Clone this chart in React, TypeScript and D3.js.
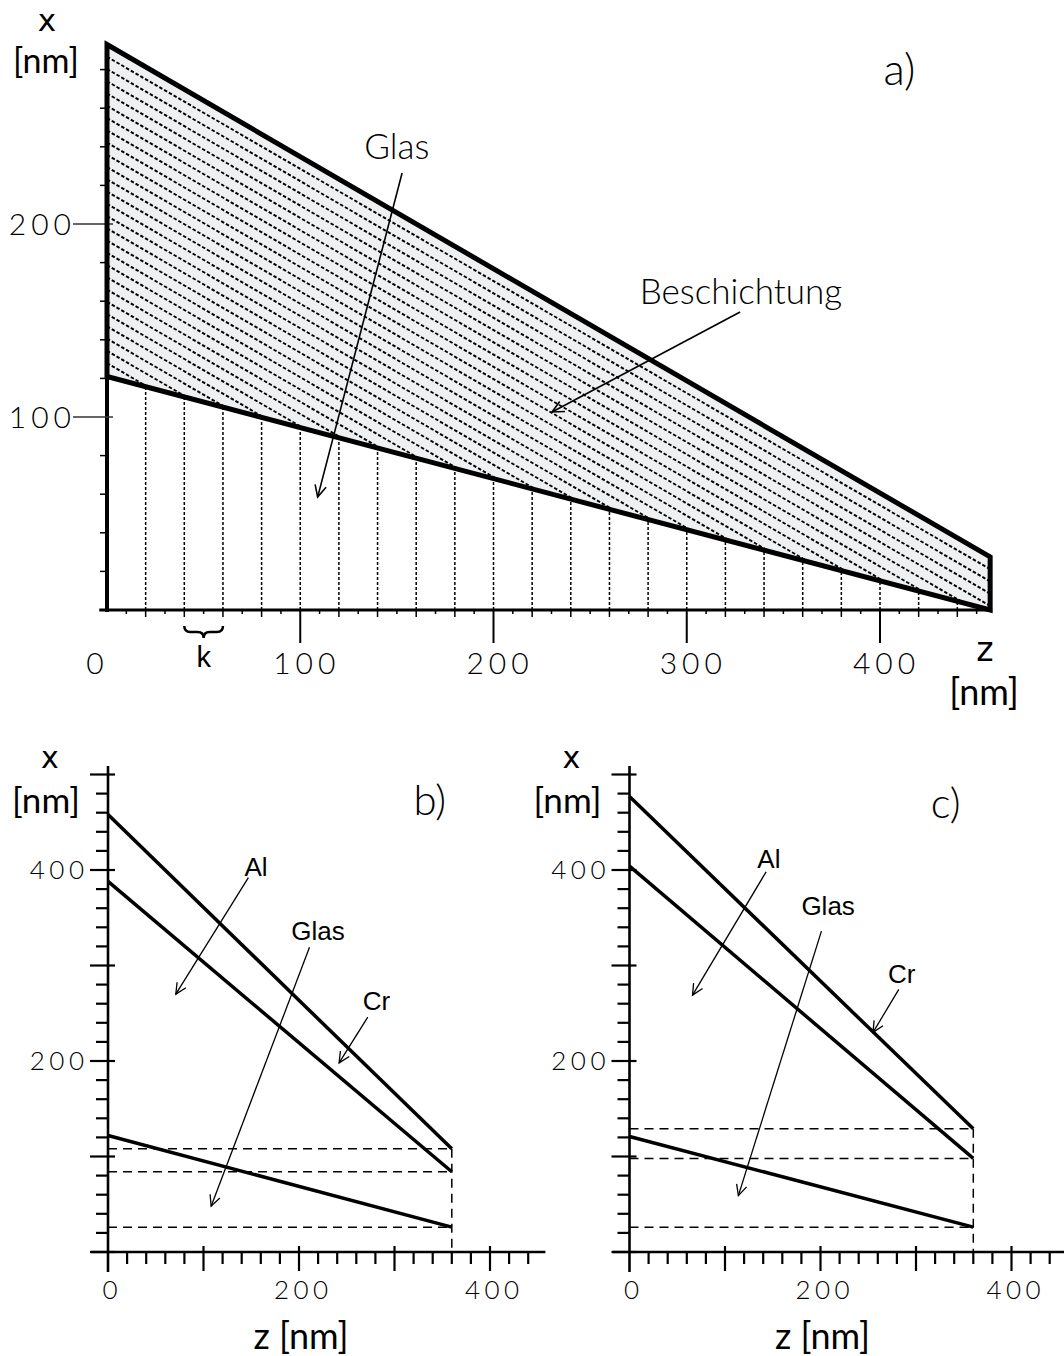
import React from "react";
import * as d3 from "d3";

// ---------- panel a) : wedge, values in nm ----------
const zA = [0, 457]; // z at wedge start / end
const coatingTopA = [293, 27.5]; // outer surface of the coating
const glassTopA = [121, 0]; // glass / coating interface
const slicesA = d3.range(20, 441, 20); // k = 20 nm slices in the glass
const xTicksA = [0, 100, 200, 300, 400];
const yTicksA = [100, 200];
const notesA = [
  { text: "Glas", tz: 150, tx: 240, from: [152.7, 226.4], to: [109, 58.5] },
  { text: "Beschichtung", tz: 328, tx: 165, from: [327.6, 154.4], to: [230.3, 102.6] },
];

// ---------- panels b) and c) ----------
const zBC = [0, 360];
const crB = [458, 108];
const alB = [388, 84];
const glassB = [122, 26];
const crC = [477, 129];
const alC = [404, 98];
const glassC = [121, 26];
const xTicksBC = [0, 200, 400];
const yTicksBC = [200, 400];
const notesB = [
  { text: "Al", tz: 155, tx: 404, from: [147, 392], to: [71, 270] },
  { text: "Glas", tz: 220, tx: 337, from: [211, 319], to: [108, 48] },
  { text: "Cr", tz: 281, tx: 263, from: [272, 246], to: [242, 198] },
];
const notesC = [
  { text: "Al", tz: 146, tx: 412, from: [143, 398], to: [66, 269] },
  { text: "Glas", tz: 208, tx: 363, from: [201, 336], to: [114, 59] },
  { text: "Cr", tz: 285, tx: 292, from: [282, 275], to: [255, 230] },
];

const gothic = "Lato, 'Open Sans', 'DejaVu Sans', sans-serif";
const arial = "'Liberation Sans', Arial, sans-serif";
const dejavu = "'DejaVu Sans', sans-serif";

// open V arrow head like the original drawing
const Arrow = ({ x1, y1, x2, y2, w = 1.6, head = 13 }) => {
  const a = Math.atan2(y2 - y1, x2 - x1);
  const s = 0.45;
  const p1 = [x2 - head * Math.cos(a - s), y2 - head * Math.sin(a - s)];
  const p2 = [x2 - head * Math.cos(a + s), y2 - head * Math.sin(a + s)];
  return (
    <g stroke="#000" strokeWidth={w} fill="none">
      <line x1={x1} y1={y1} x2={x2} y2={y2} />
      <path d={`M${p1[0]},${p1[1]}L${x2},${y2}L${p2[0]},${p2[1]}`} />
    </g>
  );
};

// thin, widely spaced tick numbers
const Num = ({ x, y, v, size, sp, anchor = "middle" }) => (
  <text
    x={anchor === "middle" ? x + sp / 2 : anchor === "end" ? x + sp : x}
    y={y}
    dy="0.36em"
    textAnchor={anchor}
    fontFamily={gothic}
    fontWeight={300}
    fontSize={size}
    letterSpacing={sp}
    fill="#000"
  >
    {v}
  </text>
);

const PanelA = () => {
  const x = d3.scaleLinear().domain([0, 400]).range([107, 880]);
  const y = d3.scaleLinear().domain([0, 200]).range([610, 224]);
  const glassAt = d3.scaleLinear().domain(zA).range(glassTopA);
  const poly: [number, number][] = [
    [zA[0], coatingTopA[0]],
    [zA[1], coatingTopA[1]],
    [zA[1], glassTopA[1]],
    [zA[0], glassTopA[0]],
  ];
  const line = d3.line<[number, number]>().x((d) => x(d[0])).y((d) => y(d[1]));
  const outline = line(poly) + "Z";
  // hatching parallel to the coating surface
  const hatch = d3.range(1, 48).map((k) => k * 6.35);

  return (
    <g>
      <defs>
        <clipPath id="coat">
          <path d={outline} />
        </clipPath>
      </defs>
      <path d={outline} fill="#eff0f2" />
      <g clipPath="url(#coat)" stroke="#000" strokeWidth={1.9} strokeDasharray="3.5 2">
        {hatch.map((d) => (
          <line
            key={d}
            x1={x(zA[0])}
            y1={y(coatingTopA[0] - d)}
            x2={x(zA[1])}
            y2={y(coatingTopA[1] - d)}
          />
        ))}
      </g>
      <g stroke="#000" strokeWidth={1.5} strokeDasharray="3 2">
        {slicesA.map((z) => (
          <line key={z} x1={x(z)} x2={x(z)} y1={y(0)} y2={y(glassAt(z))} />
        ))}
      </g>

      {/* axes */}
      <line x1={x(0)} x2={x(0)} y1={y(0) + 2} y2={y(glassTopA[0])} stroke="#000" strokeWidth={4} />
      <line x1={x(-4)} x2={x(zA[1]) + 2} y1={y(0)} y2={y(0)} stroke="#000" strokeWidth={3} />
      <g stroke="#000" strokeWidth={1.5}>
        {d3.range(10, 451, 10).map((z) => (
          <line
            key={z}
            x1={x(z)}
            x2={x(z)}
            y1={y(0)}
            y2={y(0) + (z % 100 === 0 ? 33 : z % 20 === 0 ? 7 : 4)}
            strokeWidth={z % 100 === 0 ? 2 : 1.5}
          />
        ))}
        {d3.range(0, 281, 20)
          .filter((v) => !yTicksA.includes(v))
          .map((v) => (
            <line key={v} x1={x(0) - 7} x2={x(0)} y1={y(v)} y2={y(v)} />
          ))}
      </g>
      {yTicksA.map((v) => (
        <g key={v}>
          <line x1={73} x2={113} y1={y(v)} y2={y(v)} stroke="#333" strokeWidth={1.5} />
          <Num x={71} y={y(v)} v={v} size={30} sp={5} anchor="end" />
        </g>
      ))}
      {xTicksA.map((v) => (
        <Num key={v} x={v === 0 ? x(v) - 12 : x(v) + 4} y={663} v={v} size={30} sp={5} />
      ))}

      {/* k brace */}
      <path
        d={`M${x(40)},626 Q${x(40)},632 ${x(40) + 6},632 L${x(50) - 6},632 Q${x(50)},632 ${x(50)},638 Q${x(50)},632 ${x(50) + 6},632 L${x(60) - 6},632 Q${x(60)},632 ${x(60)},626`}
        fill="none"
        stroke="#000"
        strokeWidth={2.5}
      />
      <text x={x(50)} y={657} dy="0.36em" textAnchor="middle" fontFamily={arial} fontSize={29}>
        k
      </text>

      {/* annotations */}
      {notesA.map((n) => (
        <g key={n.text}>
          <text x={x(n.tz)} y={y(n.tx)} dy="0.36em" textAnchor="middle" fontFamily={gothic} fontWeight={300} fontSize={35}>
            {n.text}
          </text>
          <Arrow x1={x(n.from[0])} y1={y(n.from[1])} x2={x(n.to[0])} y2={y(n.to[1])} />
        </g>
      ))}

      <path d={outline} fill="none" stroke="#000" strokeWidth={5} strokeLinejoin="miter" />

      <text x={47} y={31} textAnchor="middle" fontFamily={dejavu} fontSize={31}>x</text>
      <text x={46} y={73} textAnchor="middle" fontFamily={gothic} fontSize={34}>[nm]</text>
      <text x={985} y={661} textAnchor="middle" fontFamily={dejavu} fontSize={33}>z</text>
      <text x={984} y={692} dy="0.36em" textAnchor="middle" fontFamily={gothic} fontSize={36}>[nm]</text>
      <text x={x(410)} y={y(280)} dy="0.36em" textAnchor="middle" fontFamily={gothic} fontWeight={300} fontSize={44}>a)</text>
    </g>
  );
};

const SidePanel = ({ x0, cr, al, glass, notes, tag, tagPos }) => {
  const x = d3.scaleLinear().domain([0, 400]).range([x0, x0 + 382]);
  const y = d3.scaleLinear().domain([0, 400]).range([1252, 870]);
  const line = d3.line<[number, number]>().x((d) => x(d[0])).y((d) => y(d[1]));
  const layers = [cr, al, glass];
  const zEnd = zBC[1];

  return (
    <g>
      {/* dashed reference lines */}
      <g stroke="#000" strokeWidth={1.5} strokeDasharray="9 6" fill="none">
        {[cr[1], al[1], glass[1]].map((v, i) => (
          <line key={i} x1={x(0)} x2={x(zEnd)} y1={y(v)} y2={y(v)} />
        ))}
        <line x1={x(zEnd)} x2={x(zEnd)} y1={y(cr[1])} y2={y(0)} />
      </g>
      {layers.map((l, i) => (
        <path
          key={i}
          d={line([
            [zBC[0], l[0]],
            [zBC[1], l[1]],
          ])!}
          fill="none"
          stroke="#000"
          strokeWidth={3.5}
        />
      ))}

      {/* axes */}
      <g stroke="#000" strokeWidth={2.2}>
        <line x1={x(0)} x2={x(0)} y1={y(-21)} y2={y(509)} strokeWidth={2.6} />
        <line x1={x(-18)} x2={x(458)} y1={y(0)} y2={y(0)} strokeWidth={2.6} />
        {d3.range(0, 501, 20).map((v) => (
          <line
            key={"y" + v}
            x1={x(0) - (v % 100 === 0 ? 18 : 12)}
            x2={x(0) + (v % 100 === 0 ? 7 : 0)}
            y1={y(v)}
            y2={y(v)}
          />
        ))}
        {d3.range(20, 441, 20).map((v) => (
          <line
            key={"x" + v}
            x1={x(v)}
            x2={x(v)}
            y1={y(0) - (v % 100 === 0 ? 6 : 0)}
            y2={y(0) + (v % 100 === 0 ? 19 : 12)}
          />
        ))}
      </g>
      {yTicksBC.map((v) => (
        <Num key={v} x={x0 - 24} y={y(v)} v={v} size={26} sp={4.5} anchor="end" />
      ))}
      {xTicksBC.map((v) => (
        <Num key={v} x={x(v) + 2} y={1290} v={v} size={26} sp={4.5} />
      ))}

      {notes.map((n) => (
        <g key={n.text}>
          <text x={x(n.tz)} y={y(n.tx)} dy="0.36em" textAnchor="middle" fontFamily={arial} fontSize={26}>
            {n.text}
          </text>
          <Arrow x1={x(n.from[0])} y1={y(n.from[1])} x2={x(n.to[0])} y2={y(n.to[1])} w={1.3} head={12} />
        </g>
      ))}

      <text x={x0 - 58} y={768} textAnchor="middle" fontFamily={dejavu} fontSize={30}>x</text>
      <text x={x0 - 62} y={800} dy="0.36em" textAnchor="middle" fontFamily={gothic} fontSize={35}>[nm]</text>
      <text x={x0 + 193} y={1336} dy="0.36em" textAnchor="middle" fontFamily={gothic} fontSize={36}>z [nm]</text>
      <text x={x(tagPos[0])} y={y(tagPos[1])} dy="0.36em" textAnchor="middle" fontFamily={gothic} fontWeight={300} fontSize={42}>
        {tag}
      </text>
    </g>
  );
};

export default function App() {
  return (
    <svg width={1064} height={1356} style={{ position: "absolute", left: 0, top: 0, background: "#fff" }}>
      <rect width={1064} height={1356} fill="#fff" />
      <PanelA />
      <SidePanel x0={108} cr={crB} al={alB} glass={glassB} notes={notesB} tag="b)" tagPos={[337, 473]} />
      <SidePanel x0={629.5} cr={crC} al={alC} glass={glassC} notes={notesC} tag="c)" tagPos={[331, 470]} />
    </svg>
  );
}
